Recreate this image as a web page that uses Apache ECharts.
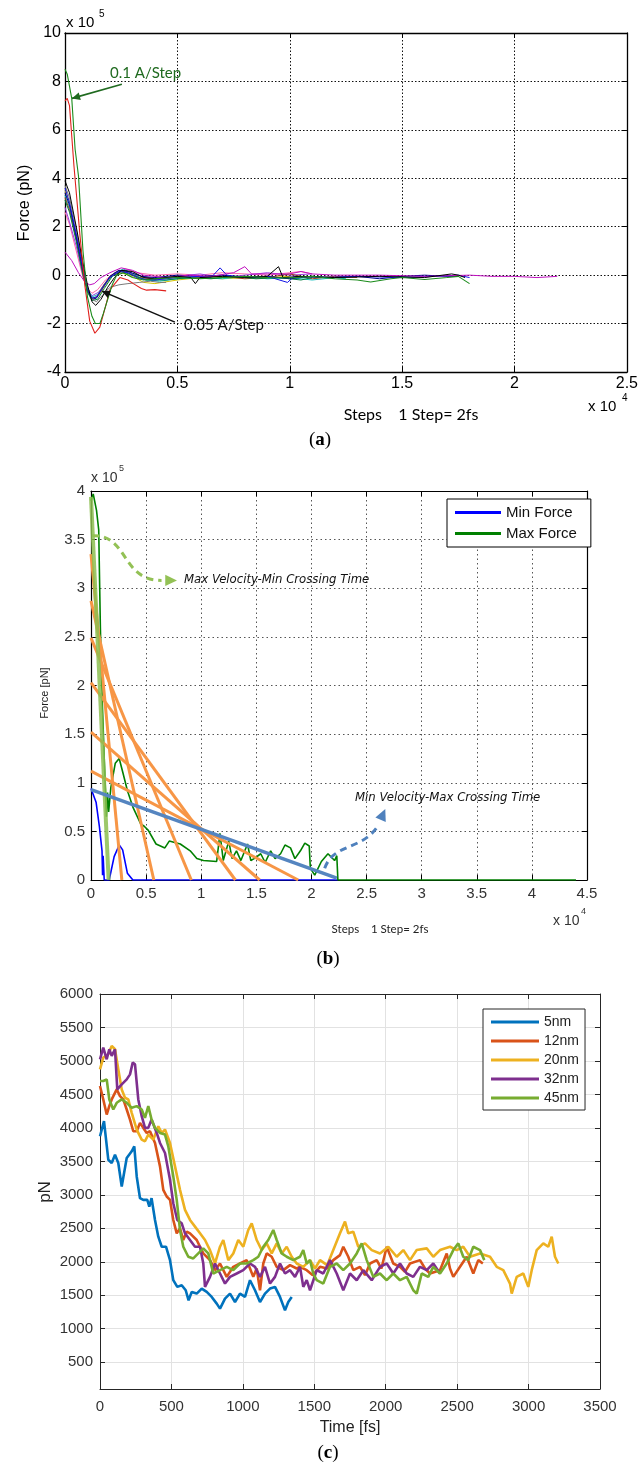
<!DOCTYPE html>
<html>
<head>
<meta charset="utf-8">
<script src="https://cdn.jsdelivr.net/npm/echarts@6/dist/echarts.min.js"></script>
<style>
  html, body { margin: 0; padding: 0; background: #fff; }
  #main { width: 641px; height: 1472px; }
</style>
</head>
<body>
<div id="main"></div>
<script>
// ---------- (a) force vs steps (x in 1e4 steps, y in 1e5 pN) ----------
const aStep01Green = [[0,8.5],[0.01,8.3],[0.03,7.3],[0.045,5.2],[0.06,4.1],[0.08,1.0],[0.1,-0.9],[0.12,-1.7],[0.135,-2.0],[0.155,-2.0],[0.17,-1.6],[0.19,-1.0],[0.21,-0.4],[0.23,0.0],[0.26,0.1],[0.3,-0.1],[0.35,-0.2],[0.4,-0.15],[0.5,-0.1],[0.6,-0.15],[0.7,-0.1],[0.8,-0.05],[0.9,-0.1],[1.0,-0.12],[1.1,-0.05],[1.2,-0.15],[1.3,-0.2],[1.36,-0.28],[1.45,-0.15],[1.5,-0.1],[1.6,-0.18],[1.7,-0.1],[1.75,-0.05],[1.8,-0.35]];
const aStep01Red = [[0,7.2],[0.01,7.3],[0.02,7.0],[0.04,4.5],[0.066,1.7],[0.088,-0.4],[0.11,-1.9],[0.133,-2.4],[0.155,-2.15],[0.18,-1.3],[0.2,-0.6],[0.244,-0.1],[0.28,-0.2],[0.304,-0.35],[0.34,-0.55],[0.363,-0.62],[0.4,-0.6],[0.45,-0.65]];
const aBlack = [[0,3.9],[0.02,3.4],[0.05,2.0],[0.08,0.5],[0.1,-0.4],[0.12,-1.1],[0.137,-1.25],[0.16,-1.0],[0.19,-0.5],[0.22,-0.1],[0.25,0.2],[0.3,0.15],[0.35,-0.1],[0.4,-0.15],[0.5,-0.05],[0.56,-0.1],[0.58,-0.35],[0.6,-0.1],[0.7,-0.05],[0.8,-0.1],[0.9,-0.05],[0.95,0.35],[0.97,-0.1],[1.05,-0.05],[1.2,-0.1],[1.4,-0.05],[1.6,-0.1],[1.72,0.05],[1.75,0.0],[1.78,-0.1]];
const aBlue = [[0,3.6],[0.02,3.0],[0.05,1.7],[0.08,0.3],[0.1,-0.6],[0.12,-0.95],[0.14,-0.9],[0.17,-0.5],[0.2,-0.1],[0.24,0.15],[0.28,0.1],[0.33,-0.15],[0.4,-0.2],[0.5,-0.1],[0.6,-0.05],[0.65,-0.1],[0.69,0.3],[0.72,0.0],[0.8,-0.1],[0.9,-0.05],[0.99,-0.3],[1.02,-0.05],[1.15,-0.1],[1.3,-0.05],[1.5,-0.1],[1.65,-0.05],[1.75,0.0],[1.8,-0.1]];
const aCyan = [[0,3.3],[0.02,2.8],[0.05,1.5],[0.08,0.2],[0.1,-0.5],[0.12,-0.9],[0.145,-0.8],[0.18,-0.3],[0.22,0.1],[0.26,0.25],[0.3,0.05],[0.36,-0.2],[0.42,-0.25],[0.5,-0.15],[0.6,-0.1],[0.7,-0.15],[0.8,-0.05],[0.9,-0.15],[1.0,-0.1],[1.1,-0.2],[1.2,-0.1],[1.25,-0.15]];
const aMagenta = [[0,0.95],[0.03,0.6],[0.06,0.1],[0.09,-0.3],[0.11,-0.4],[0.13,-0.35],[0.16,-0.1],[0.2,0.1],[0.25,0.3],[0.3,0.2],[0.35,0.0],[0.45,-0.1],[0.55,0.0],[0.65,-0.05],[0.75,0.1],[0.8,0.35],[0.83,0.05],[0.9,0.05],[1.0,0.05],[1.05,0.15],[1.1,0.05],[1.2,0.0],[1.4,0.0],[1.6,-0.05],[1.8,0.0],[1.9,-0.05],[2.0,-0.05],[2.1,-0.1],[2.19,-0.05]];
const aViolet = [[0,2.8],[0.02,2.2],[0.05,1.2],[0.08,0.0],[0.1,-0.6],[0.12,-0.85],[0.15,-0.7],[0.18,-0.3],[0.22,0.05],[0.27,0.2],[0.32,0.0],[0.4,-0.15],[0.5,-0.05],[0.6,0.05],[0.7,-0.1],[0.8,0.0],[0.9,0.1],[1.0,0.0],[1.1,0.05]];
const aYellow = [[0,3.5],[0.02,3.0],[0.05,1.6],[0.08,0.1],[0.1,-0.7],[0.125,-1.0],[0.15,-0.85],[0.18,-0.4],[0.21,0.0],[0.25,0.1],[0.3,-0.05],[0.35,-0.3],[0.4,-0.35],[0.5,-0.2],[0.6,-0.1],[0.7,-0.15],[0.8,-0.1],[0.9,-0.1],[1.0,-0.05]];
const aGray = [[0,3.7],[0.02,3.2],[0.05,1.9],[0.08,0.4],[0.1,-0.5],[0.12,-1.0],[0.14,-1.1],[0.17,-0.8],[0.2,-0.5],[0.24,-0.4],[0.28,-0.35],[0.33,-0.3],[0.38,-0.25],[0.42,-0.3],[0.45,-0.3]];
const aNavy = [[0,3.4],[0.02,2.9],[0.05,1.6],[0.08,0.2],[0.1,-0.6],[0.12,-1.0],[0.14,-0.95],[0.17,-0.5],[0.2,-0.05],[0.24,0.2],[0.28,0.15],[0.34,-0.05],[0.4,-0.1],[0.5,0.0],[0.6,-0.05],[0.7,0.0],[0.8,-0.1],[0.9,-0.05],[1.0,-0.15],[1.1,-0.05],[1.2,-0.1],[1.3,-0.05],[1.4,-0.15],[1.5,-0.05],[1.6,0.0],[1.7,-0.05],[1.75,-0.05]];
const aDarkGreen = [[0,3.1],[0.02,2.6],[0.05,1.4],[0.08,0.0],[0.1,-0.7],[0.12,-1.05],[0.145,-1.0],[0.175,-0.55],[0.21,-0.05],[0.25,0.15],[0.3,0.0],[0.36,-0.2],[0.45,-0.2],[0.55,-0.1],[0.65,-0.15],[0.75,-0.05],[0.85,-0.15],[0.95,-0.1],[1.05,-0.2],[1.1,-0.1]];
const aBrown = [[0,3.2],[0.02,2.7],[0.05,1.5],[0.08,0.1],[0.1,-0.65],[0.12,-0.95],[0.14,-0.9],[0.17,-0.45],[0.2,-0.05],[0.24,0.2],[0.28,0.1],[0.33,-0.1],[0.4,-0.15],[0.5,-0.05],[0.6,-0.1],[0.7,-0.05],[0.8,-0.15],[0.9,-0.1],[1.0,0.05],[1.1,-0.15],[1.2,-0.05],[1.3,-0.1]];
const aPink = [[0,2.6],[0.02,2.1],[0.05,1.0],[0.08,-0.1],[0.1,-0.55],[0.12,-0.75],[0.145,-0.6],[0.18,-0.2],[0.22,0.1],[0.27,0.25],[0.32,0.1],[0.4,0.0],[0.5,0.05],[0.6,0.0],[0.7,0.1],[0.8,0.05],[0.9,0.0],[1.0,0.1],[1.05,0.15],[1.1,0.05]];

// ---------- (b) min / max force (x in 1e4 steps, y in 1e5 pN) ----------
const bMinForce = [[0,0.94],[0.046,0.8],[0.076,0.55],[0.1,0.3],[0.105,0.05],[0.11,0.25],[0.12,0.0],[0.165,0.0],[0.21,0.24],[0.256,0.36],[0.287,0.31],[0.33,0.07],[0.38,0.0],[2.24,0.0]];
const bMaxForce = [[0,3.9],[0.02,3.97],[0.05,3.8],[0.07,3.6],[0.085,2.6],[0.1,1.9],[0.12,1.25],[0.14,0.65],[0.15,0.9],[0.16,0.7],[0.18,0.95],[0.22,1.2],[0.256,1.25],[0.29,1.1],[0.33,0.92],[0.38,0.75],[0.45,0.58],[0.485,0.55],[0.52,0.51],[0.59,0.37],[0.67,0.33],[0.71,0.4],[0.81,0.37],[0.9,0.3],[0.96,0.22],[1.02,0.2],[1.14,0.19],[1.17,0.48],[1.2,0.2],[1.25,0.4],[1.28,0.22],[1.32,0.3],[1.36,0.2],[1.42,0.37],[1.45,0.2],[1.48,0.22],[1.54,0.27],[1.58,0.18],[1.63,0.3],[1.67,0.22],[1.72,0.27],[1.76,0.36],[1.81,0.33],[1.85,0.22],[1.9,0.3],[1.94,0.38],[1.98,0.35],[1.99,0.12],[2.03,0.05],[2.09,0.19],[2.15,0.27],[2.21,0.2],[2.23,0.25],[2.24,0.0],[4.4,0.0]];
const bFitStartY = [3.35, 2.87, 2.49, 2.03, 1.52, 1.12];   // orange fits: force at step 0
const bFitEndX = [0.28, 0.57, 0.91, 1.31, 1.53, 1.88];      // orange fits: crossing step
const bMaxVelFit = [[0,3.94],[0.16,0]];
const bMinVelFit = [[0,0.93],[2.23,0.02]];

// ---------- (c) force vs time for tip sizes ----------
const cNames = ['5nm', '12nm', '20nm', '32nm', '45nm'];
const c5nm = [[0,3875],[28,4100],[58,3525],[82,3475],[105,3600],[128,3475],[152,3125],[187,3550],[222,3650],[240,3725],[257,3275],[280,2950],[303,2925],[331,2925],[345,2825],[361,2950],[385,2625],[408,2375],[432,2225],[462,2225],[490,2025],[513,1725],[541,1625],[572,1650],[600,1575],[620,1425],[642,1550],[677,1525],[712,1600],[747,1550],[782,1475],[817,1375],[840,1300],[875,1450],[910,1525],[945,1400],[980,1525],[1015,1475],[1050,1725],[1085,1575],[1120,1400],[1155,1525],[1190,1600],[1225,1625],[1260,1475],[1295,1275],[1318,1400],[1342,1475]];
const c12nm = [[0,4625],[23,4425],[47,4200],[65,4325],[82,4425],[117,4575],[140,4475],[163,4425],[187,4275],[210,4125],[233,3950],[257,3950],[280,4075],[303,4000],[327,3925],[350,3950],[385,3775],[420,3425],[443,3075],[467,2975],[490,2925],[513,2625],[537,2425],[560,2500],[583,2325],[607,2450],[630,2425],[677,2325],[723,2125],[770,2025],[805,1875],[840,1975],[887,1775],[933,1925],[980,1975],[1027,2025],[1050,1900],[1073,1775],[1097,1900],[1120,1575],[1143,1975],[1167,2125],[1202,2075],[1237,1925],[1283,1875],[1330,1950],[1377,1900],[1400,1925],[1447,1875],[1490,1800],[1540,1925],[1590,1900],[1633,2025],[1680,2100],[1703,2225],[1738,2075],[1773,1875],[1820,1925],[1855,1800],[1890,1975],[1937,2025],[1970,1900],[2007,2225],[2053,1975],[2100,1925],[2135,1850],[2170,1975],[2240,2025],[2275,1900],[2310,1825],[2380,1875],[2427,2125],[2450,1900],[2473,1775],[2520,1925],[2567,2075],[2613,1825],[2648,2025],[2680,1975]];
const c20nm = [[0,4875],[23,5050],[58,5100],[82,5225],[105,5175],[128,4875],[152,4575],[175,4450],[198,4425],[222,4225],[257,3975],[292,3825],[315,3800],[338,3900],[373,3825],[408,4025],[432,3925],[455,3975],[490,3775],[525,3425],[560,3075],[595,2775],[630,2625],[665,2525],[700,2425],[735,2325],[770,2175],[805,1975],[840,2225],[863,2325],[898,2025],[933,2125],[968,2325],[1003,2225],[1038,2475],[1062,2575],[1097,2325],[1132,2175],[1167,2275],[1202,2125],[1237,2275],[1272,2125],[1307,2225],[1342,2075],[1377,1975],[1423,1925],[1470,2025],[1505,1900],[1540,2025],[1590,1950],[1633,2175],[1680,2425],[1715,2600],[1738,2425],[1773,2450],[1808,2225],[1855,2275],[1902,2175],[1960,2125],[2018,2225],[2077,2075],[2123,2175],[2170,2025],[2217,2175],[2287,2200],[2333,2075],[2380,2175],[2450,2225],[2497,2175],[2543,2225],[2590,2075],[2660,2125],[2730,2075],[2777,1925],[2823,1875],[2870,1675],[2882,1525],[2917,1775],[2963,1825],[2998,1625],[3022,1875],[3057,2175],[3103,2275],[3138,2225],[3162,2375],[3185,2075],[3208,1975]];
const c32nm = [[0,5025],[23,5200],[47,5025],[65,5175],[82,5075],[105,5175],[121,4575],[152,4650],[187,4725],[210,4800],[229,4975],[245,4950],[268,4425],[292,4175],[315,4000],[338,4000],[361,4125],[397,3925],[420,3775],[455,3625],[490,3225],[513,2875],[541,2625],[572,2575],[595,2425],[630,2325],[665,2225],[700,2225],[723,1975],[735,1625],[770,1775],[805,1975],[840,1825],[875,1675],[910,1775],[957,1825],[1003,1875],[1050,1975],[1085,1925],[1120,1775],[1155,1925],[1190,1675],[1225,1775],[1260,1975],[1295,1825],[1330,1875],[1365,1775],[1400,1925],[1423,1625],[1447,1725],[1470,1575],[1517,1875],[1563,1825],[1610,2025],[1657,1825],[1703,1575],[1750,1825],[1797,1725],[1843,1875],[1902,1725],[1960,1925],[2007,1975],[2053,1825],[2100,1975],[2147,1825],[2193,1775],[2240,1925],[2287,1875],[2333,1975],[2380,1825]];
const c45nm = [[0,4700],[23,4700],[47,4725],[65,4425],[93,4275],[117,4375],[152,4425],[187,4375],[222,4300],[257,4325],[292,4275],[315,4150],[338,4325],[361,4125],[385,4000],[420,3925],[455,3900],[478,3725],[513,3275],[537,2925],[560,2475],[583,2225],[618,2075],[653,2050],[688,2125],[723,2200],[758,2125],[793,1825],[840,1875],[887,1925],[933,1875],[980,1975],[1027,1975],[1073,2025],[1108,2075],[1143,2225],[1178,2325],[1213,2475],[1237,2325],[1272,2125],[1307,2075],[1353,2025],[1400,2075],[1423,2175],[1447,1975],[1470,2025],[1493,1825],[1517,1725],[1563,1675],[1610,1925],[1657,1975],[1703,1875],[1750,1975],[1797,2125],[1832,2275],[1867,2025],[1913,1775],[1960,1825],[2007,1725],[2053,1825],[2100,1725],[2147,1775],[2193,1575],[2217,1525],[2252,1825],[2298,1775],[2333,1925],[2380,1825],[2427,1975],[2473,2175],[2508,2275],[2543,2075],[2578,2025],[2613,2225],[2660,2175],[2690,2025]];
const cColors = ['#0072BD', '#D95319', '#EDB120', '#7E2F8E', '#77AC30'];

const SANS = '"Liberation Sans", Arial, sans-serif';
const NARROW = '"Liberation Sans Narrow", "Liberation Sans", sans-serif';
const SERIF = '"Liberation Serif", "DejaVu Serif", serif';
const HAND = '"DejaVu Sans Condensed", "DejaVu Sans", sans-serif';
const CALI = 'Lato, "Open Sans", sans-serif';

const chart = echarts.init(document.getElementById('main'), null, { renderer: 'canvas' });

// one box = bottom/left labelled axes + top/right plain axes with inside ticks
function boxAxes(gi, xr, yr, st) {
  const line = { onZero: false, lineStyle: { color: st.frame, width: st.frameW } };
  const tick = { inside: true, length: 5, lineStyle: { color: st.frame } };
  const lab = { color: st.label, fontSize: st.fs, fontFamily: st.font, formatter: v => String(v) };
  const split = { show: true, lineStyle: { color: st.grid, type: st.gridType, width: 1 } };
  return {
    x: [
      { gridIndex: gi, type: 'value', min: xr[0], max: xr[1], interval: xr[2], position: 'bottom',
        axisLine: line, axisTick: tick, axisLabel: Object.assign({ margin: st.xm }, lab), splitLine: split },
      { gridIndex: gi, type: 'value', min: xr[0], max: xr[1], interval: xr[2], position: 'top',
        axisLine: line, axisTick: tick, axisLabel: { show: false }, splitLine: { show: false } }
    ],
    y: [
      { gridIndex: gi, type: 'value', min: yr[0], max: yr[1], interval: yr[2], position: 'left',
        axisLine: line, axisTick: tick, axisLabel: Object.assign({ margin: st.ym }, lab), splitLine: split },
      { gridIndex: gi, type: 'value', min: yr[0], max: yr[1], interval: yr[2], position: 'right',
        axisLine: line, axisTick: tick, axisLabel: { show: false }, splitLine: { show: false } }
    ]
  };
}

const axA = boxAxes(0, [0, 2.5, 0.5], [-4, 10, 2],
  { frame: '#000', frameW: 1.3, label: '#000', fs: 16, font: SANS, grid: '#111', gridType: [1.5, 2], xm: 4, ym: 4 });
const axB = boxAxes(1, [0, 4.5, 0.5], [0, 4, 0.5],
  { frame: '#000', frameW: 1.2, label: '#333', fs: 15, font: SANS, grid: '#555', gridType: [1.5, 3], xm: 6, ym: 6 });
const axC = boxAxes(2, [0, 3500, 500], [100, 6000, 500],
  { frame: '#262626', frameW: 1, label: '#333', fs: 15, font: SANS, grid: '#e2e2e2', gridType: 'solid', xm: 10, ym: 7 });
// (c) y axis starts at 100: let ECharts place nice 500-steps instead of counting from min
axC.y.forEach(ax => { delete ax.interval; ax.minInterval = 500; ax.maxInterval = 500; });
axC.y[0].axisLabel.formatter = v => (v === 100 ? '' : String(v));

function line(name, data, gi, color, width, z) {
  return {
    name, type: 'line', xAxisIndex: gi * 2, yAxisIndex: gi * 2, data,
    symbol: 'none', showSymbol: false, silent: true, animation: false, z: z || 2,
    lineStyle: { color, width }, itemStyle: { color }
  };
}

const series = [];
// (a)
[
  [aPink, '#ff66aa'], [aViolet, '#9a3ee0'], [aYellow, '#d4c400'], [aCyan, '#10c0c0'],
  [aBrown, '#a04020'], [aDarkGreen, '#00803c'], [aNavy, '#000088'], [aGray, '#7a7a7a'],
  [aBlue, '#1414e6'], [aMagenta, '#c010c0'], [aBlack, '#000000']
].forEach((d, i) => series.push(line('a' + i, d[0], 0, d[1], 1, 2)));
series.push(line('a-red', aStep01Red, 0, '#e0201c', 1.1, 3));
series.push(line('a-green', aStep01Green, 0, '#1c8c1c', 1.1, 3));
// (b)
series.push(line('Min Force', bMinForce, 1, '#0000ff', 1.6, 2));
series.push(line('Max Force', bMaxForce, 1, '#008000', 1.6, 3));
bFitStartY.forEach((y0, i) => series.push(line('fit' + i, [[0, y0], [bFitEndX[i], 0]], 1, '#f79646', 3, 4)));
series.push(line('maxVel', bMaxVelFit, 1, 'rgba(140,190,80,0.85)', 4, 5));
series.push(line('minVel', bMinVelFit, 1, '#5585c0', 3.5, 5));
// (c)
[c5nm, c12nm, c20nm, c32nm, c45nm].forEach((d, i) => series.push(line(cNames[i], d, 2, cColors[i], 2.6, 2 + i)));

const legendBase = {
  orient: 'vertical', icon: 'rect', itemHeight: 3, selectedMode: false,
  borderWidth: 1, backgroundColor: '#fff', z: 20
};

chart.setOption({
  backgroundColor: '#fff',
  animation: false,
  grid: [
    { left: 65, top: 33, width: 562, height: 339 },
    { left: 91, top: 491, width: 496, height: 389 },
    { left: 100, top: 994, width: 500, height: 395 }
  ],
  xAxis: [...axA.x, ...axB.x, ...axC.x],
  yAxis: [...axA.y, ...axB.y, ...axC.y],
  legend: [
    Object.assign({}, legendBase, {
      data: ['Min Force', 'Max Force'], left: 447, top: 499, itemWidth: 46, itemGap: 6,
      padding: [6, 14, 6, 8], borderColor: '#000',
      textStyle: { fontSize: 15, fontFamily: NARROW, color: '#111' }
    }),
    Object.assign({}, legendBase, {
      data: cNames, left: 483, top: 1009, itemWidth: 48, itemGap: 5,
      padding: [6, 6, 5, 8], borderColor: '#262626',
      textStyle: { fontSize: 14, fontFamily: SANS, color: '#222' }
    })
  ],
  series
});

// ---------- texts and annotation arrows ----------
const toPx = (gi, p) => chart.convertToPixel({ xAxisIndex: gi * 2, yAxisIndex: gi * 2 }, p);

function head(tip, from, size, color) {
  const ang = Math.atan2(tip[1] - from[1], tip[0] - from[0]);
  const a1 = ang + Math.PI - 0.45, a2 = ang + Math.PI + 0.45;
  return { type: 'polygon', z: 30, silent: true,
    shape: { points: [tip, [tip[0] + size * Math.cos(a1), tip[1] + size * Math.sin(a1)], [tip[0] + size * Math.cos(a2), tip[1] + size * Math.sin(a2)]] },
    style: { fill: color } };
}
function straightArrow(gi, from, to, color, w) {
  const p1 = toPx(gi, from), p2 = toPx(gi, to);
  return [
    { type: 'line', z: 30, silent: true, shape: { x1: p1[0], y1: p1[1], x2: p2[0], y2: p2[1] }, style: { stroke: color, lineWidth: w } },
    head(p2, p1, 9, color)
  ];
}
function curvedArrow(gi, pts, color) {
  const p = pts.map(q => toPx(gi, q));
  return [
    { type: 'bezierCurve', z: 30, silent: true,
      shape: { x1: p[0][0], y1: p[0][1], cpx1: p[1][0], cpy1: p[1][1], cpx2: p[2][0], cpy2: p[2][1], x2: p[3][0], y2: p[3][1] },
      style: { stroke: color, lineWidth: 3, lineDash: [7, 5], fill: null } },
    head(p[4], p[3], 13, color)
  ];
}
function txt(x, y, text, o) {
  return { type: 'text', x, y, z: 40, silent: true, rotation: o.rot || 0,
    style: Object.assign({ text, fill: '#000', fontFamily: SANS, fontSize: 14, align: 'left', verticalAlign: 'middle' }, o.style || {}) };
}
function panelTag(x, y, letter) {
  return { type: 'text', x, y, z: 40, silent: true,
    style: { text: '{p|(}{b|' + letter + '}{p|)}', align: 'center', verticalAlign: 'middle',
      rich: { p: { fontFamily: SERIF, fontSize: 19, fill: '#000' }, b: { fontFamily: SERIF, fontSize: 19, fontWeight: 'bold', fill: '#000' } } } };
}

const g = [];
// (a)
g.push(txt(66, 23, 'x 10', { style: { fontSize: 15 } }));
g.push(txt(99, 14, '5', { style: { fontSize: 10 } }));
g.push(txt(25, 203, 'Force (pN)', { rot: Math.PI / 2, style: { fontFamily: NARROW, fontSize: 16, align: 'center' } }));
g.push(txt(411, 415, 'Steps    1 Step= 2fs', { style: { fontFamily: CALI, fontSize: 16, align: 'center' } }));
g.push(txt(588, 407, 'x 10', { style: { fontSize: 15 } }));
g.push(txt(622, 398, '4', { style: { fontSize: 10 } }));
g.push(panelTag(320, 440, 'a'));
g.push(txt(110, 73, '0.1 A/Step', { style: { fontFamily: CALI, fontSize: 15, fill: '#1f6a1f' } }));
g.push(txt(184, 325, '0.05 A/Step', { style: { fontFamily: CALI, fontSize: 15, fill: '#111' } }));
g.push(...straightArrow(0, [0.253, 7.88], [0.031, 7.3], '#1f6a1f', 1.6));
g.push(...straightArrow(0, [0.489, -1.94], [0.164, -0.66], '#111', 1.6));
// (b)
g.push(txt(91, 478, 'x 10', { style: { fontSize: 14, fill: '#333' } }));
g.push(txt(119, 469, '5', { style: { fontSize: 9, fill: '#333' } }));
g.push(txt(45, 693, 'Force [pN]', { rot: Math.PI / 2, style: { fontSize: 11, align: 'center', fill: '#222' } }));
g.push(txt(380, 929, 'Steps    1 Step= 2fs', { style: { fontFamily: CALI, fontSize: 11.5, align: 'center', fill: '#222' } }));
g.push(txt(553, 921, 'x 10', { style: { fontSize: 14, fill: '#333' } }));
g.push(txt(581, 912, '4', { style: { fontSize: 9, fill: '#333' } }));
g.push(panelTag(328, 959, 'b'));
g.push(txt(184, 580, 'Max Velocity-Min Crossing Time', { style: { fontFamily: HAND, fontStyle: 'italic', fontSize: 13, fill: '#111' } }));
g.push(txt(355, 798, 'Min Velocity-Max Crossing Time', { style: { fontFamily: HAND, fontStyle: 'italic', fontSize: 13, fill: '#111' } }));
g.push(...curvedArrow(1, [[0.01, 3.54], [0.34, 3.56], [0.27, 3.08], [0.64, 3.08], [0.78, 3.08]], '#93c155'));
g.push(...curvedArrow(1, [[2.12, 0.12], [2.2, 0.38], [2.45, 0.3], [2.6, 0.55], [2.67, 0.73]], '#4f81bd'));
// (c)
g.push(txt(45, 1192, 'pN', { rot: Math.PI / 2, style: { fontSize: 17, align: 'center', fill: '#222' } }));
g.push(txt(350, 1428, 'Time [fs]', { style: { fontSize: 16, align: 'center', fill: '#222' } }));
g.push(panelTag(328, 1453, 'c'));

chart.setOption({ graphic: g });
</script>
</body>
</html>
